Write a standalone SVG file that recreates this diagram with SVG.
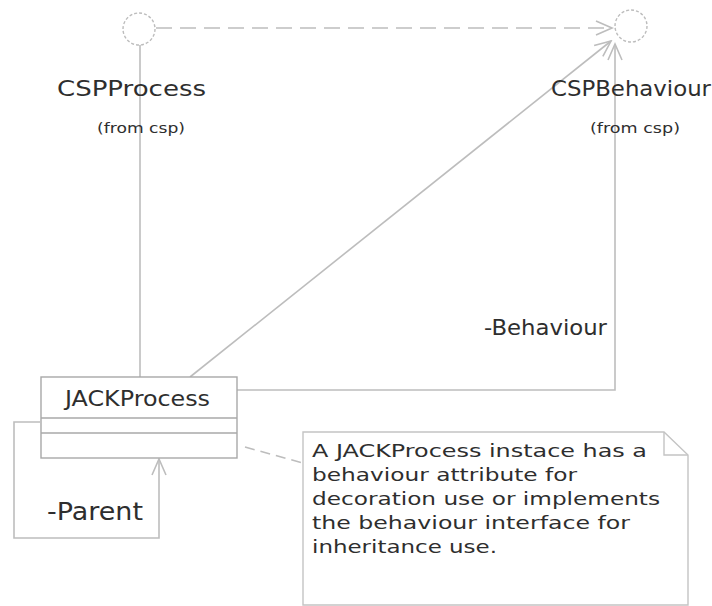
<svg xmlns="http://www.w3.org/2000/svg" width="712" height="606" viewBox="0 0 712 606">
<style>
.ln{fill:none;stroke:#bdbdbd;stroke-width:1.6}
.bx{fill:#ffffff;stroke:#a8a8a8;stroke-width:1.4}
.t{font-family:"DejaVu Sans","Liberation Sans",sans-serif;fill:#2e2e2e}
.ic{fill:#ffffff;stroke:#bcbcbc;stroke-width:1.4;stroke-dasharray:3,2}
</style>
<defs>
<marker id="open" viewBox="0 0 20 20" refX="18" refY="10" markerWidth="20" markerHeight="20" markerUnits="userSpaceOnUse" orient="auto">
<path d="M2,3 L18,10 L2,17" fill="none" stroke="#bdbdbd" stroke-width="1.6"/>
</marker>
</defs>
<rect width="712" height="606" fill="#ffffff"/>
<g id="connectors">
<line class="ln" x1="156" y1="28" x2="612" y2="28" stroke-dasharray="16,8" marker-end="url(#open)"/>
<line class="ln" x1="140" y1="45" x2="140" y2="377"/>
<line class="ln" x1="190" y1="377" x2="611" y2="41" marker-end="url(#open)"/>
<polyline class="ln" points="237,390 615,390 615,44" marker-end="url(#open)"/>
<polyline class="ln" points="40,422 14,422 14,538 159,538 159,459" marker-end="url(#open)"/>
<line class="ln" x1="245" y1="447" x2="303" y2="463" stroke-dasharray="10,6"/>
</g>
<g id="CSPProcess">
<circle class="ic" cx="139" cy="29" r="16"/>
<text class="t" x="57" y="96" font-size="21" textLength="149" lengthAdjust="spacingAndGlyphs">CSPProcess</text>
<text class="t" x="97" y="133" font-size="14" textLength="88" lengthAdjust="spacingAndGlyphs">(from csp)</text>
</g>
<g id="CSPBehaviour">
<circle class="ic" cx="631" cy="26" r="16"/>
<text class="t" x="551" y="96" font-size="21" textLength="160" lengthAdjust="spacingAndGlyphs">CSPBehaviour</text>
<text class="t" x="590" y="133" font-size="14" textLength="90" lengthAdjust="spacingAndGlyphs">(from csp)</text>
</g>
<g id="JACKProcess">
<rect class="bx" x="41" y="377" width="196" height="81"/>
<line class="bx" x1="41" y1="418" x2="237" y2="418"/>
<line class="bx" x1="41" y1="433" x2="237" y2="433"/>
<text class="t" x="65" y="406" font-size="21" textLength="145" lengthAdjust="spacingAndGlyphs">JACKProcess</text>
</g>
<g id="labels">
<text class="t" x="484" y="335" font-size="22" textLength="123" lengthAdjust="spacingAndGlyphs">-Behaviour</text>
<text class="t" x="47" y="520" font-size="25" textLength="96" lengthAdjust="spacingAndGlyphs">-Parent</text>
</g>
<g id="note">
<path d="M303,432 H664 L688,455 V605 H303 Z" fill="#ffffff" stroke="#c4c4c4" stroke-width="1.4"/>
<path d="M664,432 V455 H688" fill="none" stroke="#c4c4c4" stroke-width="1.4"/>
<text class="t" x="312" y="457" font-size="18" textLength="335" lengthAdjust="spacingAndGlyphs">A JACKProcess instace has a</text>
<text class="t" x="312" y="481" font-size="18" textLength="265" lengthAdjust="spacingAndGlyphs">behaviour attribute for</text>
<text class="t" x="312" y="505" font-size="18" textLength="348" lengthAdjust="spacingAndGlyphs">decoration use or implements</text>
<text class="t" x="312" y="529" font-size="18" textLength="318" lengthAdjust="spacingAndGlyphs">the behaviour interface for</text>
<text class="t" x="312" y="553" font-size="18" textLength="185" lengthAdjust="spacingAndGlyphs">inheritance use.</text>
</g>
</svg>
